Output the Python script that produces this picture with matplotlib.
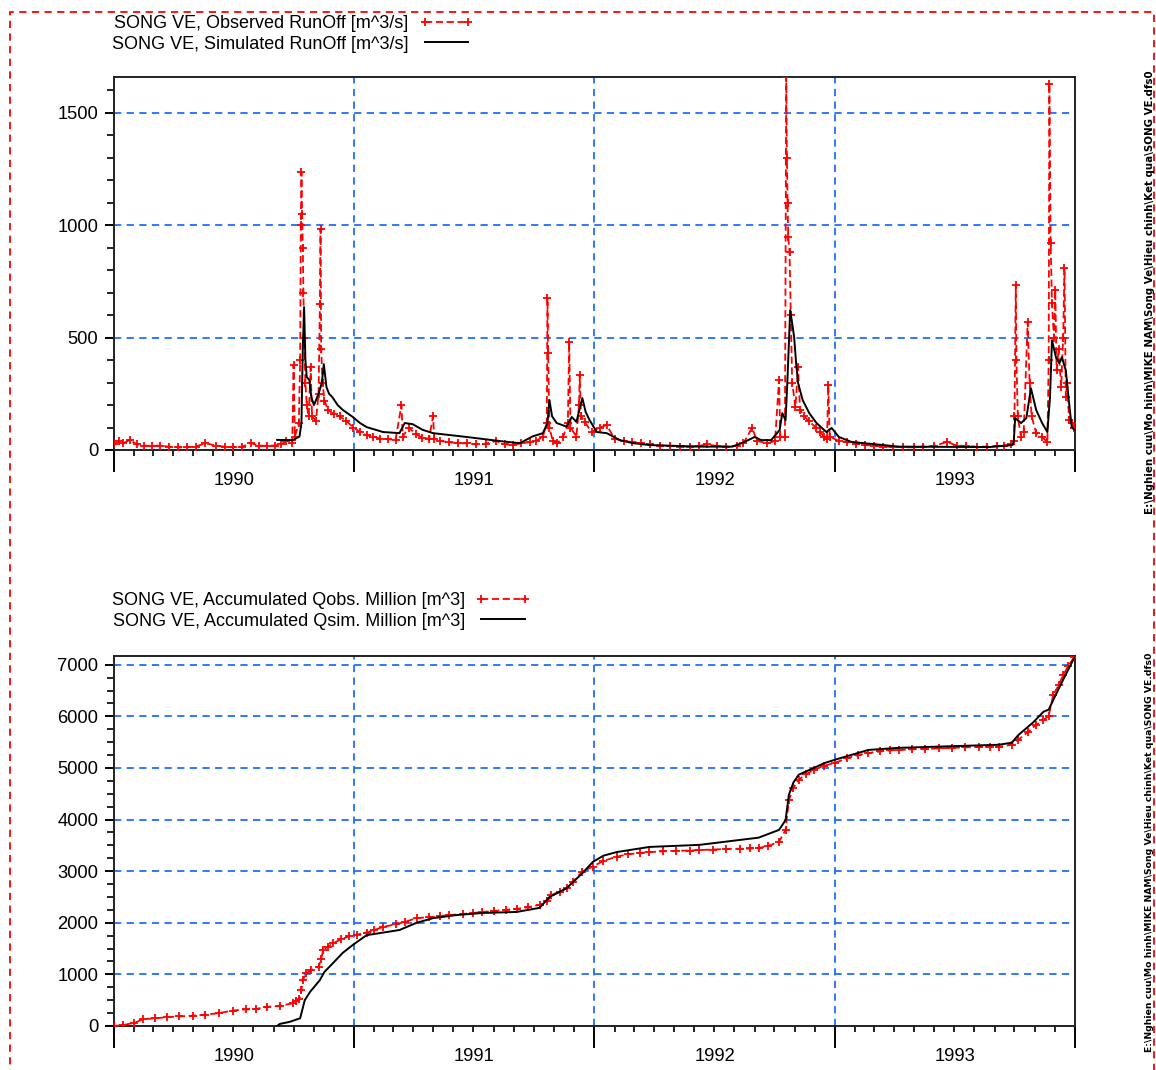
import matplotlib
matplotlib.use('Agg')
import matplotlib.pyplot as plt
import matplotlib.dates as mdates
import matplotlib.ticker as mticker
import pandas as pd
from matplotlib.patches import Rectangle
from matplotlib.lines import Line2D

plt.rcParams['font.family'] = ['Liberation Sans', 'DejaVu Sans']

# ---------------- data ----------------
obs_q_dates = [
    '1990-01-01', '1990-01-08', '1990-01-15', '1990-01-25', '1990-02-05', '1990-02-15', '1990-02-28',
    '1990-03-12', '1990-03-25', '1990-04-08', '1990-04-22', '1990-05-05', '1990-05-20', '1990-06-05',
    '1990-06-18', '1990-07-01', '1990-07-15', '1990-07-28', '1990-08-10', '1990-08-22', '1990-09-03',
    '1990-09-12', '1990-09-20', '1990-09-29', '1990-10-01', '1990-10-03', '1990-10-09', '1990-10-11',
    '1990-10-12', '1990-10-13', '1990-10-14', '1990-10-15', '1990-10-16', '1990-10-17', '1990-10-19',
    '1990-10-21', '1990-10-24', '1990-10-27', '1990-10-29', '1990-11-04', '1990-11-08', '1990-11-10',
    '1990-11-11', '1990-11-12', '1990-11-14', '1990-11-17', '1990-11-22', '1990-12-01', '1990-12-10',
    '1990-12-20', '1990-12-31',
    '1991-01-10', '1991-01-20', '1991-01-30', '1991-02-10', '1991-02-22', '1991-03-05', '1991-03-14',
    '1991-03-16', '1991-03-25', '1991-04-05', '1991-04-15', '1991-04-25', '1991-05-01', '1991-05-03',
    '1991-05-12', '1991-05-25', '1991-06-08', '1991-06-22', '1991-07-05', '1991-07-20', '1991-08-05',
    '1991-08-18', '1991-08-30', '1991-09-12', '1991-09-25', '1991-10-05', '1991-10-15', '1991-10-21',
    '1991-10-22', '1991-10-23', '1991-10-25', '1991-10-30', '1991-11-06', '1991-11-15', '1991-11-22',
    '1991-11-24', '1991-11-26', '1991-12-05', '1991-12-09', '1991-12-10', '1991-12-12', '1991-12-18',
    '1991-12-28',
    '1992-01-10', '1992-01-20', '1992-02-01', '1992-02-15', '1992-02-28', '1992-03-12', '1992-03-26',
    '1992-04-10', '1992-04-25', '1992-05-10', '1992-05-25', '1992-06-08', '1992-06-20', '1992-07-05',
    '1992-07-20', '1992-08-05', '1992-08-15', '1992-08-28', '1992-09-05', '1992-09-20', '1992-10-02',
    '1992-10-08', '1992-10-10', '1992-10-17', '1992-10-19', '1992-10-20', '1992-10-21', '1992-10-22',
    '1992-10-24', '1992-10-26', '1992-10-28', '1992-11-02', '1992-11-06', '1992-11-09', '1992-11-15',
    '1992-11-22', '1992-12-03', '1992-12-10', '1992-12-15', '1992-12-20', '1992-12-22', '1992-12-24',
    '1993-01-07', '1993-01-20', '1993-02-02', '1993-02-15', '1993-03-01', '1993-03-15', '1993-03-30',
    '1993-04-15', '1993-05-01', '1993-05-15', '1993-06-01', '1993-06-20', '1993-07-05', '1993-07-20',
    '1993-08-05', '1993-08-20', '1993-09-05', '1993-09-15', '1993-09-25', '1993-09-30', '1993-10-01',
    '1993-10-03', '1993-10-04', '1993-10-06', '1993-10-11', '1993-10-15', '1993-10-21', '1993-10-24',
    '1993-10-27', '1993-11-03', '1993-11-12', '1993-11-20', '1993-11-22', '1993-11-23', '1993-11-25',
    '1993-11-27', '1993-11-30', '1993-12-02', '1993-12-04', '1993-12-07', '1993-12-11', '1993-12-14',
    '1993-12-16', '1993-12-18', '1993-12-20', '1993-12-23', '1993-12-27', '1993-12-31']
obs_q_values = [
    25, 40, 30, 45, 25, 20, 18,
    20, 15, 12, 12, 15, 30, 20,
    15, 12, 15, 30, 20, 18, 20,
    25, 40, 30, 378, 60, 120, 400,
    1000, 1235, 1050, 900, 700, 500, 300,
    200, 150, 369, 150, 130, 250, 650,
    982, 450, 300, 220, 180, 160, 150,
    130, 100,
    80, 65, 60, 50, 48, 45, 200,
    60, 100, 70, 55, 50, 150, 50,
    40, 35, 30, 30, 25, 28, 40,
    25, 22, 30, 35, 40, 60, 120,
    675, 430, 100, 40, 30, 60, 120,
    480, 100, 60, 200, 333, 150, 123,
    80,
    100, 111, 50, 40, 35, 30, 25,
    20, 18, 15, 15, 18, 25, 18,
    15, 20, 30, 98, 40, 30, 40,
    311, 60, 58, 1660, 1300, 1100, 950,
    880, 600, 300, 191, 369, 180, 150,
    130, 100, 80, 60, 50, 289, 60,
    40, 35, 28, 22, 20, 15, 14,
    12, 12, 15, 18, 36, 20, 18,
    15, 15, 18, 20, 25, 40, 150,
    733, 400, 150, 58, 80, 569, 300,
    150, 75, 58, 36, 400, 1631, 920,
    653, 500, 711, 355, 450, 280, 500,
    809, 236, 300, 133, 120, 100]

sim_q_dates = [
    '1990-09-06', '1990-09-30', '1990-10-10', '1990-10-13', '1990-10-15', '1990-10-17', '1990-10-19',
    '1990-10-21', '1990-10-25', '1990-10-28', '1990-11-01', '1990-11-08', '1990-11-13', '1990-11-16',
    '1990-11-20', '1990-11-24', '1990-11-29', '1990-12-07', '1990-12-15', '1990-12-30',
    '1991-01-10', '1991-01-20', '1991-02-14', '1991-03-11', '1991-03-19', '1991-03-31', '1991-04-15',
    '1991-05-01', '1991-06-21', '1991-08-10', '1991-09-10', '1991-09-29', '1991-10-15', '1991-10-22',
    '1991-10-25', '1991-10-29', '1991-11-05', '1991-11-20', '1991-11-28', '1991-12-05', '1991-12-14',
    '1991-12-19', '1991-12-25',
    '1992-01-05', '1992-01-20', '1992-02-09', '1992-02-28', '1992-03-25', '1992-06-09', '1992-07-29',
    '1992-08-13', '1992-09-01', '1992-09-11', '1992-09-26', '1992-10-05', '1992-10-09', '1992-10-13',
    '1992-10-18', '1992-10-21', '1992-10-25', '1992-10-28', '1992-10-31', '1992-11-03', '1992-11-06',
    '1992-11-13', '1992-11-23', '1992-12-04', '1992-12-19', '1992-12-27',
    '1993-01-07', '1993-01-26', '1993-04-08', '1993-08-24', '1993-09-28', '1993-09-30', '1993-10-02',
    '1993-10-11', '1993-10-19', '1993-10-26', '1993-11-03', '1993-11-12', '1993-11-20', '1993-11-24',
    '1993-11-27', '1993-12-03', '1993-12-08', '1993-12-12', '1993-12-18', '1993-12-23', '1993-12-27',
    '1993-12-31']
sim_q_values = [
    45, 44, 60, 120, 450, 636, 400,
    325, 311, 235, 200, 250, 300, 382,
    280, 250, 235, 200, 178, 147,
    120, 102, 80, 75, 120, 115, 90,
    75, 58, 40, 30, 60, 75, 120,
    222, 150, 120, 104, 147, 125, 231,
    170, 133,
    80, 75, 44, 31, 22, 15, 15,
    31, 58, 44, 44, 75, 89, 164,
    133, 325, 622, 564, 503, 387, 298,
    222, 164, 120, 80, 98,
    58, 36, 15, 13, 22, 40, 142,
    120, 142, 275, 178, 120, 80, 235,
    489, 413, 387, 413, 355, 209, 102,
    90]

obs_acc_dates = [
    '1990-01-01', '1990-01-15', '1990-02-01', '1990-02-14', '1990-03-05', '1990-03-22', '1990-04-10',
    '1990-05-01', '1990-05-20', '1990-06-10', '1990-07-01', '1990-07-20', '1990-08-05', '1990-08-21',
    '1990-09-10', '1990-09-30', '1990-10-04', '1990-10-10', '1990-10-13', '1990-10-15', '1990-10-20',
    '1990-10-28', '1990-11-08', '1990-11-12', '1990-11-15', '1990-11-22', '1990-11-30', '1990-12-12',
    '1990-12-25',
    '1991-01-05', '1991-01-20', '1991-02-01', '1991-02-14', '1991-03-05', '1991-03-20', '1991-04-06',
    '1991-04-25', '1991-05-12', '1991-05-26', '1991-06-15', '1991-07-01', '1991-07-15', '1991-08-01',
    '1991-08-20', '1991-09-05', '1991-09-22', '1991-10-10', '1991-10-22', '1991-10-28', '1991-11-10',
    '1991-11-20', '1991-11-30', '1991-12-14', '1991-12-30',
    '1992-01-15', '1992-02-04', '1992-02-22', '1992-03-10', '1992-03-25', '1992-04-15', '1992-05-05',
    '1992-05-25', '1992-06-09', '1992-06-30', '1992-07-20', '1992-08-10', '1992-08-25', '1992-09-07',
    '1992-09-22', '1992-10-08', '1992-10-18', '1992-10-23', '1992-10-30', '1992-11-07', '1992-11-18',
    '1992-11-30', '1992-12-15',
    '1993-01-01', '1993-01-20', '1993-02-05', '1993-02-21', '1993-03-10', '1993-03-25', '1993-04-08',
    '1993-04-28', '1993-05-18', '1993-06-08', '1993-06-28', '1993-07-18', '1993-08-08', '1993-08-25',
    '1993-09-07', '1993-09-27', '1993-10-07', '1993-10-22', '1993-11-02', '1993-11-14', '1993-11-22',
    '1993-11-29', '1993-12-07', '1993-12-14', '1993-12-22', '1993-12-31']
obs_acc_values = [
    0, 20, 60, 130, 150, 170, 185,
    200, 220, 250, 300, 320, 330, 370,
    390, 440, 480, 520, 700, 890, 1020,
    1080, 1150, 1300, 1470, 1540, 1600, 1680,
    1740,
    1770, 1810, 1860, 1920, 1970, 2020, 2090,
    2110, 2130, 2150, 2170, 2190, 2210, 2230,
    2250, 2270, 2300, 2350, 2420, 2540, 2600,
    2670, 2800, 2990, 3090,
    3200, 3280, 3330, 3350, 3370, 3385, 3395,
    3400, 3410, 3420, 3430, 3435, 3440, 3450,
    3490, 3570, 3800, 4380, 4620, 4770, 4880,
    4960, 5040,
    5100, 5190, 5250, 5290, 5320, 5340, 5350,
    5360, 5370, 5380, 5390, 5400, 5405, 5408,
    5410, 5450, 5550, 5700, 5830, 5930, 6010,
    6420, 6600, 6800, 6980, 7150]

sim_acc_dates = [
    '1990-09-06', '1990-09-10', '1990-09-25', '1990-10-11', '1990-10-15', '1990-10-18', '1990-10-26',
    '1990-11-10', '1990-11-17', '1990-11-30', '1990-12-15', '1990-12-30',
    '1991-01-20', '1991-02-14', '1991-03-11', '1991-04-06', '1991-05-01', '1991-06-06', '1991-07-15',
    '1991-09-05', '1991-10-10', '1991-10-25', '1991-11-20', '1991-12-14', '1991-12-30',
    '1992-01-15', '1992-02-04', '1992-03-25', '1992-06-09', '1992-09-07', '1992-10-08', '1992-10-18',
    '1992-10-23', '1992-10-30', '1992-11-07', '1992-11-30', '1992-12-15',
    '1993-01-01', '1993-02-21', '1993-04-08', '1993-09-07', '1993-09-27', '1993-10-07', '1993-10-30',
    '1993-11-14', '1993-11-22', '1993-11-29', '1993-12-14', '1993-12-31']
sim_acc_values = [
    0, 40, 80, 150, 350, 500, 660,
    890, 1050, 1220, 1420, 1570,
    1760, 1810, 1860, 2000, 2090, 2150, 2190,
    2210, 2290, 2500, 2670, 2960, 3180,
    3300, 3370, 3470, 3510, 3650, 3800, 3990,
    4480, 4720, 4870, 5000, 5090,
    5160, 5350, 5390, 5450, 5490, 5640, 5890,
    6090, 6130, 6320, 6710, 7140]

year_starts = ['1990-01-01', '1991-01-01', '1992-01-01', '1993-01-01', '1994-01-01']
year_labels = ['1990', '1991', '1992', '1993']
top_labels = ['SONG VE, Observed RunOff [m^3/s]', 'SONG VE, Simulated RunOff [m^3/s]']
bottom_labels = ['SONG VE, Accumulated Qobs. Million [m^3]', 'SONG VE, Accumulated Qsim. Million [m^3]']
file_path = r'E:\Nghien cuu\Mo hinh\MIKE NAM\Song Ve\Hieu chinh\Ket qua\SONG VE.dfs0'

# ---------------- figure ----------------
W, H = 1156, 1070
fig = plt.figure(figsize=(W / 100, H / 100), dpi=100)

RED = '#ff0000'
BLUE = '#1f6dff'
FS_TICK = 13.2
FS_LEG = 13


def num(dates):
    return mdates.date2num(pd.to_datetime(dates))


ys = num(year_starts)
mids = [(ys[i] + ys[i + 1]) / 2 for i in range(4)]
month_ticks = num(pd.date_range('1990-01-01', '1994-01-01', freq='MS'))


def style(ax, ymax, major, minor):
    ax.set_xlim(ys[0], ys[-1])
    ax.set_ylim(0, ymax)
    ax.set_xticks(ys)
    ax.set_xticklabels([])
    ax.set_xticks(month_ticks, minor=True)
    ax.yaxis.set_major_locator(mticker.MultipleLocator(major))
    ax.yaxis.set_minor_locator(mticker.MultipleLocator(minor))
    ax.tick_params(axis='x', which='major', length=16, width=1.4, direction='out')
    ax.tick_params(axis='x', which='minor', length=4.5, width=1.2, direction='out')
    ax.tick_params(axis='y', which='major', length=6.5, width=1.4, direction='out',
                   labelsize=FS_TICK, pad=5)
    ax.tick_params(axis='y', which='minor', length=5, width=1.2, direction='out')
    for s in ax.spines.values():
        s.set_linewidth(1.4)
        s.set_color('#222222')
    ax.grid(True, which='major', color=BLUE, linestyle=(0, (4, 3)), linewidth=1.3)
    ax.set_axisbelow(True)
    sec = ax.secondary_xaxis('bottom')
    sec.set_xticks(mids, labels=year_labels)
    sec.tick_params(length=0, labelsize=FS_TICK, pad=16)
    sec.spines['bottom'].set_visible(False)


obs_style = dict(color=RED, linestyle=(0, (4, 2)), linewidth=1.3, marker='+',
                 markersize=6, markeredgewidth=1.3)
sim_style = dict(color='black', linestyle='-', linewidth=1.4)

# ---- top: runoff ----
ax1 = fig.add_axes([114 / W, 1 - 450 / H, 961 / W, 373 / H])
ax1.plot(num(obs_q_dates), obs_q_values, zorder=3, **obs_style)
ax1.plot(num(sim_q_dates), sim_q_values, zorder=4, **sim_style)
style(ax1, 1660, 500, 100)

# ---- bottom: accumulated ----
ax2 = fig.add_axes([114 / W, 1 - 1026 / H, 961 / W, 370 / H])
ax2.plot(num(obs_acc_dates), obs_acc_values, zorder=3, **obs_style)
ax2.plot(num(sim_acc_dates), sim_acc_values, zorder=4, **sim_style)
style(ax2, 7170, 1000, 250)


# ---- legends ----
def legend(labels, top_px):
    h = [Line2D([], [], **obs_style), Line2D([], [], **sim_style)]
    fig.legend(h, labels, loc='upper left', bbox_to_anchor=(112 / W, 1 - top_px / H),
               frameon=False, markerfirst=False, borderpad=0, borderaxespad=0,
               handlelength=3.0, handletextpad=0.6, labelspacing=0.2, numpoints=2,
               fontsize=FS_LEG)


legend(top_labels, 15)
legend(bottom_labels, 592)

# ---- vertical file-path texts ----
fig.text(1150 / W, 1 - 70 / H, file_path, rotation=90, ha='center', va='top',
         fontsize=7.4, fontweight='bold', family=['DejaVu Sans'])
fig.text(1150 / W, 1 - 652 / H, file_path, rotation=90, ha='center', va='top',
         fontsize=6.7, fontweight='bold', family=['DejaVu Sans'])

# ---- red dashed page border ----
fig.add_artist(Rectangle((10 / W, -0.05), (1154 - 10) / W, 1 - 12 / H + 0.05,
                         transform=fig.transFigure, fill=False, edgecolor=RED,
                         linestyle=(0, (4, 3)), linewidth=1.3, clip_on=False))

fig.savefig('out.png', dpi=100)
